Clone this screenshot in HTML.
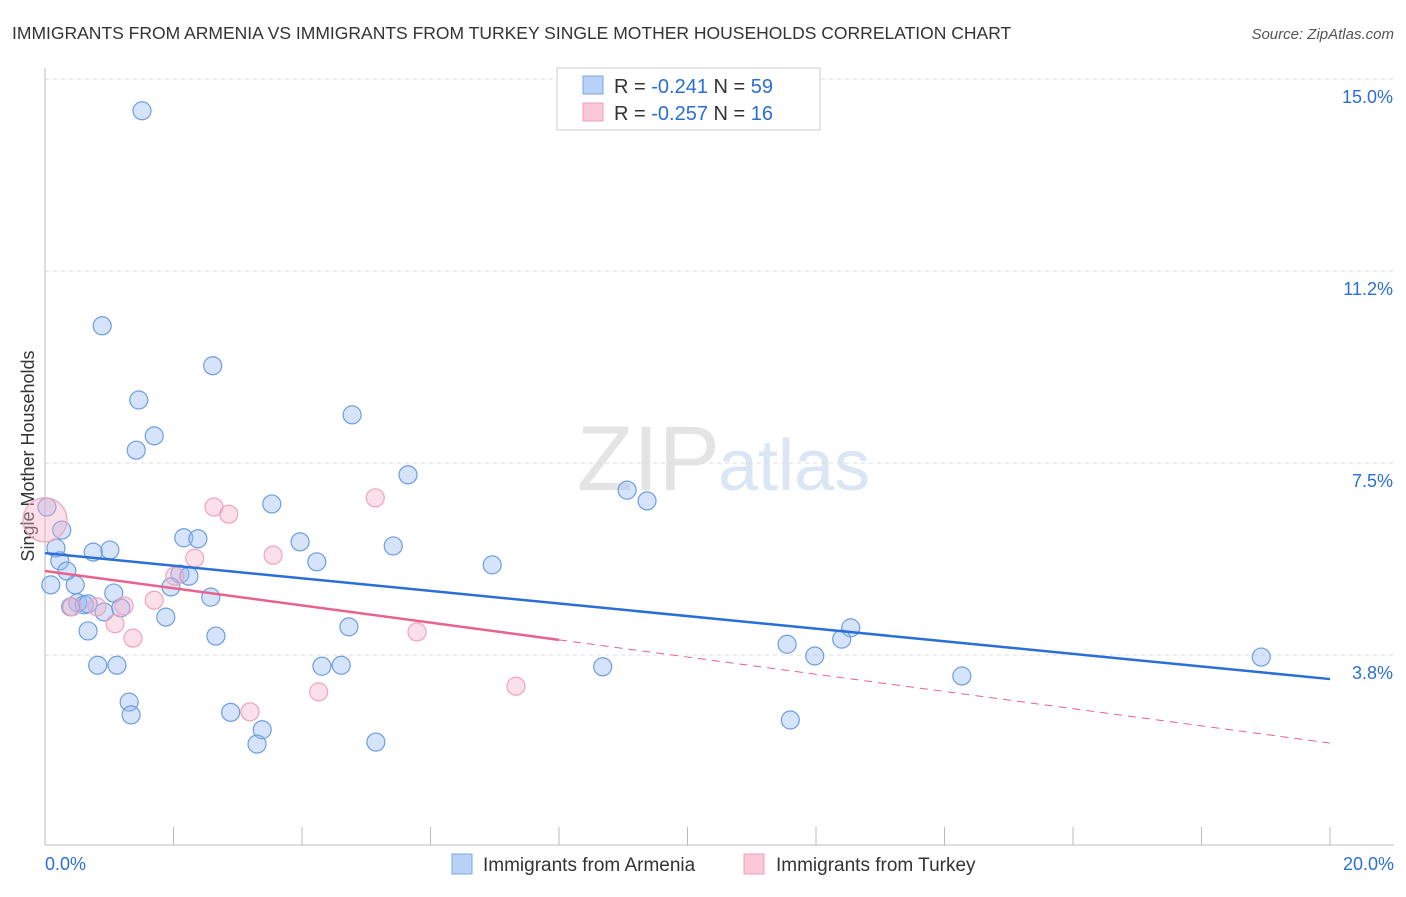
<!DOCTYPE html>
<html><head><meta charset="utf-8"><style>
body{margin:0;background:#fff;font-family:"Liberation Sans",sans-serif}
svg text{font-family:"Liberation Sans",sans-serif}
</style></head><body>
<svg id="c" width="1406" height="892" xmlns="http://www.w3.org/2000/svg">
<text x="12" y="39" font-size="17.5" fill="#333">IMMIGRANTS FROM ARMENIA VS IMMIGRANTS FROM TURKEY SINGLE MOTHER HOUSEHOLDS CORRELATION CHART</text>
<text x="1394" y="39" font-size="15" fill="#555" font-style="italic" text-anchor="end">Source: ZipAtlas.com</text>
<text x="720" y="490" font-size="92" fill="#e4e4e4" text-anchor="end" font-family="Liberation Serif">ZIP</text>
<text x="718" y="490" font-size="72" fill="#dbe6f5">atlas</text>
<text transform="translate(34,456) rotate(-90)" font-size="18" fill="#333" text-anchor="middle">Single Mother Households</text>
<g id="grid"></g><g id="axes"></g><g id="pts"></g><g id="lines"></g>
<g>
<rect x="557" y="68" width="263" height="62" fill="#fff" stroke="#ccc"/>
<rect x="583" y="76" width="20" height="18" fill="#b9d2f7" stroke="#7aa6e6"/>
<text x="614" y="93" font-size="20" fill="#333">R = <tspan fill="#2a6fd6">-0.241</tspan>   N = <tspan fill="#2a6fd6">59</tspan></text>
<rect x="583" y="103" width="20" height="18" fill="#f9c9d8" stroke="#f0a0bb"/>
<text x="614" y="120" font-size="20" fill="#333">R = <tspan fill="#2a6fd6">-0.257</tspan>   N = <tspan fill="#2a6fd6"> 16</tspan></text>
</g>
<g>
<rect x="452" y="854" width="20" height="20" fill="#b9d2f7" stroke="#7aa6e6"/>
<text x="483" y="871" font-size="19" fill="#333">Immigrants from Armenia</text>
<rect x="744" y="854" width="20" height="20" fill="#f9c9d8" stroke="#f0a0bb"/>
<text x="776" y="871" font-size="19" fill="#333">Immigrants from Turkey</text>
</g>
</svg>
<script>
const yTicks=[15.0,11.25,7.5,3.75];
const yTickLabels=["15.0%","11.2%","7.5%","3.8%"];
const xTickLabels=["0.0%","20.0%"];
const armX=[1.51,0.89,2.61,1.46,4.78,1.70,1.42,5.65,9.06,9.37,3.53,0.03,0.26,2.16,2.38,3.97,5.42,1.01,0.75,0.17,0.23,4.23,6.96,0.34,2.10,2.24,0.09,0.47,1.96,1.07,2.58,0.51,0.61,0.40,0.67,0.92,1.18,1.88,4.73,12.54,0.67,2.66,12.40,11.55,11.98,18.93,0.82,1.12,4.31,4.61,8.68,14.27,1.31,2.89,11.60,1.34,3.38,3.30,5.15];
const armY=[14.38,10.18,9.40,8.73,8.44,8.03,7.75,7.27,6.97,6.76,6.70,6.64,6.19,6.04,6.02,5.96,5.88,5.80,5.76,5.84,5.59,5.57,5.51,5.39,5.33,5.29,5.12,5.12,5.08,4.96,4.88,4.77,4.73,4.69,4.75,4.59,4.67,4.49,4.30,4.28,4.22,4.12,4.06,3.96,3.73,3.71,3.55,3.55,3.53,3.55,3.52,3.34,2.83,2.63,2.48,2.58,2.29,2.01,2.05];
const turX=[0.0,2.63,2.86,5.14,3.55,2.33,2.02,1.70,1.23,0.81,1.09,1.37,5.79,4.26,7.33,3.19,0.42];
const turY=[6.39,6.64,6.50,6.82,5.70,5.64,5.29,4.82,4.71,4.69,4.36,4.08,4.20,3.03,3.14,2.64,4.69];
const turR=[22,9,9,9,9,9,9,9,9,9,9,9,9,9,9,9,9];
const armTrend=[5.74,3.28];
const turTrend=[5.39,2.03];
const turSolidEnd=8;
const NS="http://www.w3.org/2000/svg";
const X=v=>45+v*64.25, Y=v=>79+(15-v)*51.2;
function mk(p,t,a){const e=document.createElementNS(NS,t);for(const k in a)e.setAttribute(k,a[k]);document.getElementById(p).appendChild(e);return e;}
yTicks.forEach((t,i)=>{
 const g=mk('grid','line',{x1:45,x2:1394,y1:Y(t),y2:Y(t),stroke:'#ddd','stroke-dasharray':'4,4'});
 
 
 const l=mk('grid','text',{x:1393,y:Y(t)+24,'font-size':18,fill:'#2a6fd6','text-anchor':'end'});
 l.textContent=yTickLabels[i];
 
 
});
const ya=mk('axes','line',{x1:45,x2:45,y1:68,y2:845,stroke:'#bbb'});


const xa=mk('axes','line',{x1:45,x2:1394,y1:845,y2:845,stroke:'#bbb'});


for(let i=0;i<=10;i++){const t=mk('axes','line',{x1:X(i*2),x2:X(i*2),y1:827,y2:845,stroke:'#bbb'});
 
 }
[[0,'start',45],[20,'end',1394]].forEach((d,i)=>{const t=mk('axes','text',{x:d[2],y:870,'font-size':18,fill:'#2a6fd6','text-anchor':d[1]});t.textContent=xTickLabels[i];
 
 });
armX.forEach((x,i)=>{const c=mk('pts','circle',{cx:X(x),cy:Y(armY[i]),r:9,fill:'rgba(150,188,242,0.4)',stroke:'#6d9de3','stroke-width':1.2});
 
 });
turX.forEach((x,i)=>{const c=mk('pts','circle',{cx:X(x),cy:Y(turY[i]),r:turR[i],fill:'rgba(246,175,200,0.4)',stroke:'#f0a3bd','stroke-width':1.2});
 
 });
const bl=mk('lines','line',{x1:X(0),y1:Y(armTrend[0]),x2:X(20),y2:Y(armTrend[1]),stroke:'#2a6fd6','stroke-width':2.5});


const tm=turTrend[0]+(turTrend[1]-turTrend[0])*turSolidEnd/20;
const pl=mk('lines','line',{x1:X(0),y1:Y(turTrend[0]),x2:X(turSolidEnd),y2:Y(tm),stroke:'#e8628c','stroke-width':2.5});


const pd=mk('lines','line',{x1:X(turSolidEnd),y1:Y(tm),x2:X(20),y2:Y(turTrend[1]),stroke:'#e8628c','stroke-width':1,'stroke-dasharray':'8,6'});


</script>
</body></html>
